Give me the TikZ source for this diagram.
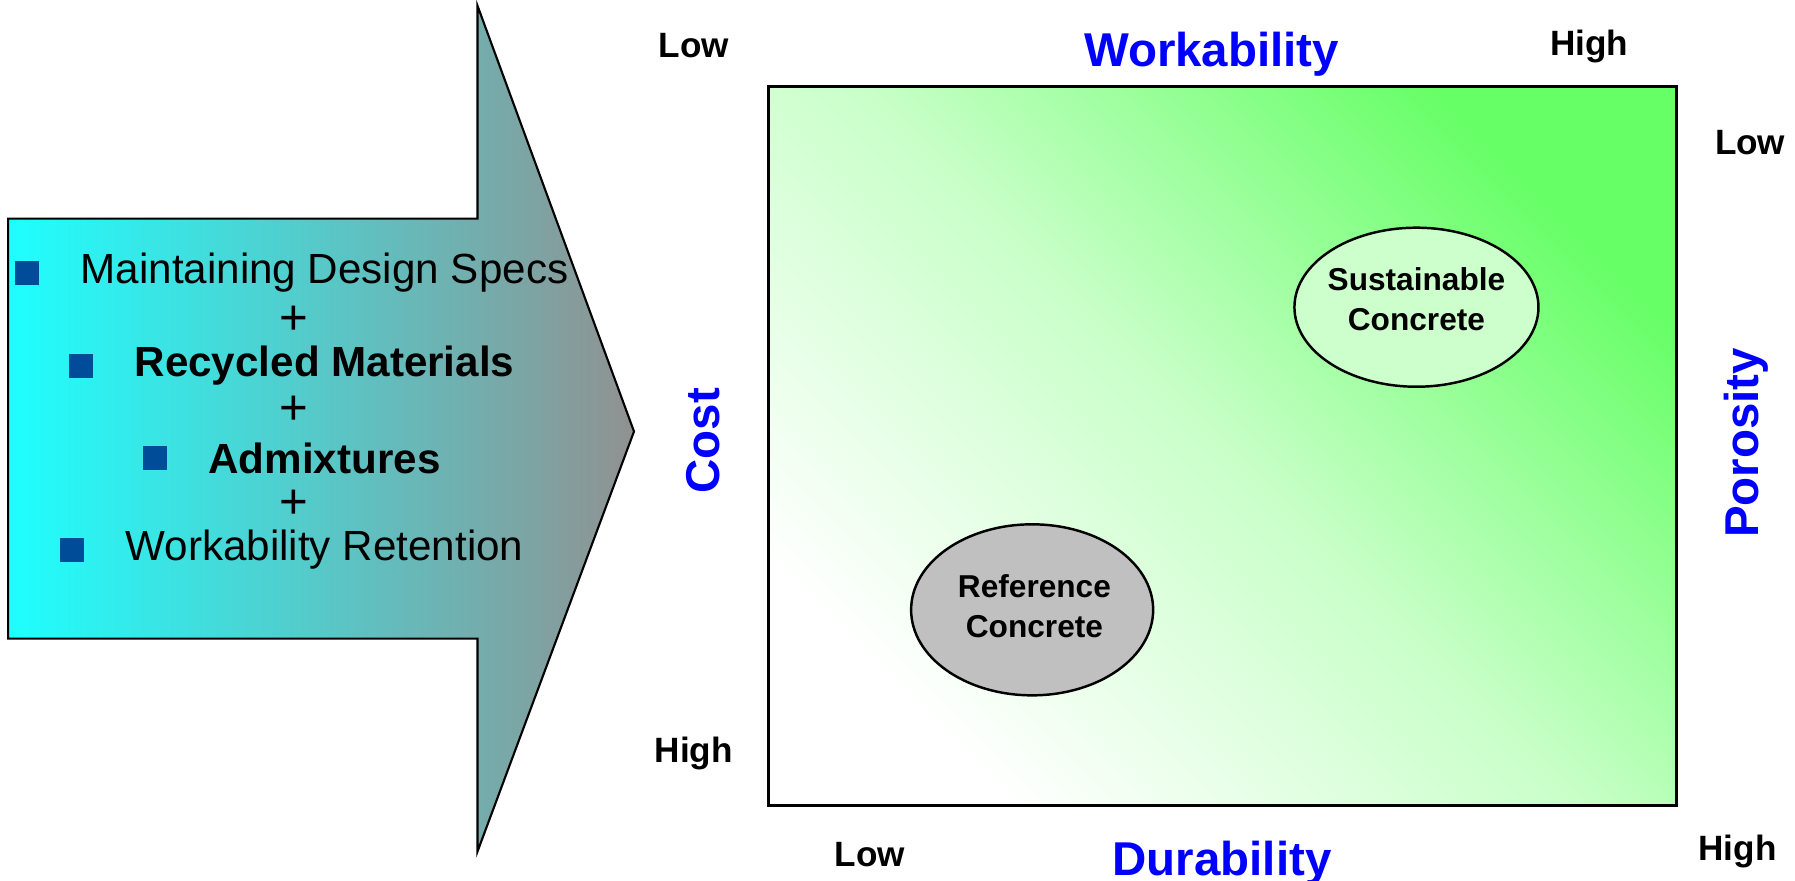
\documentclass[tikz,border=0pt]{standalone}
\usepackage{fontspec}
\setmainfont{Liberation Sans}
\usetikzlibrary{positioning,shapes.geometric}

\definecolor{bulletblue}{RGB}{0,76,153}
\definecolor{arrowcyan}{RGB}{30,255,255}
\definecolor{arrowgray}{RGB}{145,145,145}
\definecolor{boxgreen}{RGB}{102,255,102}
\definecolor{midgreen}{RGB}{200,255,200}
\definecolor{palegreen}{RGB}{204,255,204}
\definecolor{refgray}{RGB}{192,192,192}

\begin{document}
\begin{tikzpicture}[x=0.011506cm, y=-0.011503cm]
    \tikzset{item/.style= {inner sep=0pt
    , font=\fontsize{12}{14}\selectfont
      }
    , bolditem/.style={item, font=\fontsize{12}{14}\selectfont\bfseries}
    , plus/.style={item, font=\fontsize{14}{14}\selectfont}
    , bullet/.style={fill=bulletblue, minimum size=0.24cm, inner sep=0pt
    , node distance=0.4cm}
    , blob/.style={draw, ellipse, line width=0.7pt, inner sep=0pt}
    , blobtext/.style={font=\fontsize{9}{11.5}\selectfont\bfseries, align=center}
    , level/.style={font=\fontsize{10}{12}\selectfont\bfseries}
    , axis/.style={font=\fontsize{13.5}{16}\selectfont\bfseries, text=blue}
    }

\useasboundingbox (0,0) rectangle (1560,765);

% big arrow
\draw[line width=0.6pt, left color=arrowcyan, right color=arrowgray]
  (7,190) -- (415,190) -- (415,5) -- (551,375) -- (415,740)
  -- (415,555) -- (7,555) -- cycle;

\node [item] (spec) at (282,237) {Maintaining Design Specs};
\node [bullet, left=of spec] (b1) {};
\node [plus] (p1) at (255,278) {+};
\node [bolditem] (recycled) at (282,318) {Recycled Materials};
\node [bullet, left=of recycled] (b2) {};
\node [plus] (p2) at (255,357) {+};
\node [bolditem] (admix) at (282,398) {Admixtures};
\node [bullet, left=of admix] (b3) {};
\node [plus] (p3) at (255,438) {+};
\node [item] (retention) at (282,478) {Workability Retention};
\node [bullet, left=of retention] (b4) {};

% chart
\draw[line width=0.8pt, top color=boxgreen, bottom color=white,
  middle color=midgreen, shading angle=-45]
  (668,75) rectangle (1457,700);

\node [blob, fill=palegreen, minimum width=2.44cm, minimum height=1.59cm]
  (sust) at (1231,267) {};
\node [blobtext] (sustlbl) at (1231,260) {Sustainable\\Concrete};
\node [blob, fill=refgray, minimum width=2.42cm, minimum height=1.71cm]
  (ref) at (897,530) {};
\node [blobtext] (reflbl) at (899,527) {Reference\\Concrete};

\node [level] (costlow) at (603,40) {Low};
\node [axis] (work) at (1053,47) {Workability};
\node [level] (workhigh) at (1381,40) {High};
\node [level] (porlow) at (1521,124) {Low};
\node [axis, rotate=90] (por) at (1518,385) {Porosity};
\node [axis, rotate=90] (cost) at (611,383) {Cost};
\node [level] (costhigh) at (603,655) {High};
\node [level] (durlow) at (756,743) {Low};
\node [axis] (dur) at (1062,750) {Durability};
\node [level] (durhigh) at (1510,740) {High};
\end{tikzpicture}
\end{document}
